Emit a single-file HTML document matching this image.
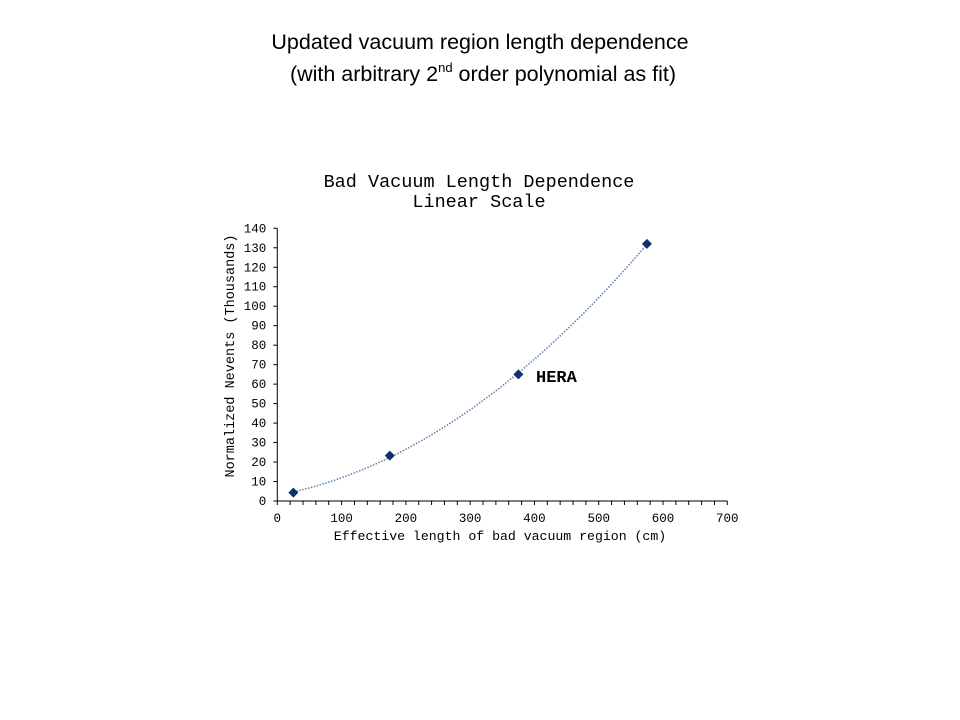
<!DOCTYPE html>
<html><head><meta charset="utf-8"><style>
body{margin:0;background:#fff;width:960px;height:720px;overflow:hidden}
.h{position:absolute;left:0;width:960px;text-align:center;font-family:"Liberation Sans",sans-serif;font-size:21.5px;color:#000}
sup{font-size:13px;line-height:0;vertical-align:9px}
</style></head><body>
<div class="h" style="top:26px;line-height:32px">Updated vacuum region length dependence<br>&nbsp;(with arbitrary 2<sup>nd</sup> order polynomial as fit)</div>
<svg id="c" width="960" height="720" style="position:absolute;left:0;top:0"></svg>
<script>
const xs=[25,175,375,575];
const ys=[4.3,23.3,65,132];
const xTicks=[0,100,200,300,400,500,600,700];
const yTicks=[0,10,20,30,40,50,60,70,80,90,100,110,120,130,140];
const X0=277.3,X1=727.3,Y0=501,Y1=228.3;
const sx=v=>X0+(v/700)*(X1-X0), sy=v=>Y0-(v/140)*(Y0-Y1);
const svg=document.getElementById('c'),NS='http://www.w3.org/2000/svg';
function el(t,a,p){const e=document.createElementNS(NS,t);for(const k in a)e.setAttribute(k,a[k]);(p||svg).appendChild(e);return e;}
const mono='"Liberation Mono",monospace';
let t=el('text',{x:479,y:187,'text-anchor':'middle','font-family':mono,'font-size':18.5});t.textContent='Bad Vacuum Length Dependence';


t=el('text',{x:479,y:207,'text-anchor':'middle','font-family':mono,'font-size':18.5});t.textContent='Linear Scale';


let a=el('line',{x1:X0,y1:Y0,x2:X1,y2:Y0,stroke:'#000'});


a=el('line',{x1:X0,y1:Y0,x2:X0,y2:Y1,stroke:'#000'});


for(let v=0;v<=700;v+=20){el('line',{x1:sx(v),y1:Y0,x2:sx(v),y2:Y0+4,stroke:'#000'});}
xTicks.forEach(v=>{const e=el('text',{x:sx(v),y:Y0+21,'text-anchor':'middle','font-family':mono,'font-size':12.5});e.textContent=v;

});
yTicks.forEach(v=>{el('line',{x1:X0-4,y1:sy(v),x2:X0,y2:sy(v),stroke:'#000'});
const e=el('text',{x:X0-11,y:sy(v)+4,'text-anchor':'end','font-family':mono,'font-size':12.5});e.textContent=v;

});
t=el('text',{x:500,y:540,'text-anchor':'middle','font-family':mono,'font-size':13.2});t.textContent='Effective length of bad vacuum region (cm)';


t=el('text',{x:234,y:356,'text-anchor':'middle','font-family':mono,'font-size':13.5,transform:'rotate(-90 234 356)'});t.textContent='Normalized Nevents (Thousands)';


let S=[0,0,0,0,0],T=[0,0,0];
xs.forEach((x,i)=>{for(let k=0;k<5;k++)S[k]+=Math.pow(x,k);for(let k=0;k<3;k++)T[k]+=ys[i]*Math.pow(x,k);});
const M=[[S[0],S[1],S[2],T[0]],[S[1],S[2],S[3],T[1]],[S[2],S[3],S[4],T[2]]];
for(let i=0;i<3;i++){for(let j=i+1;j<3;j++){const f=M[j][i]/M[i][i];for(let k=i;k<4;k++)M[j][k]-=f*M[i][k];}}
const c=[0,0,0];for(let i=2;i>=0;i--){let s=M[i][3];for(let k=i+1;k<3;k++)s-=M[i][k]*c[k];c[i]=s/M[i][i];}
let d='';for(let x=xs[0];x<=xs[xs.length-1];x+=5){const y=c[0]+c[1]*x+c[2]*x*x;d+=(d?'L':'M')+sx(x).toFixed(1)+' '+sy(y).toFixed(1);}
const fl=el('path',{d:d,fill:'none',stroke:'#5b7fa8','stroke-width':1.5,'stroke-dasharray':'1.5 1.5'});


xs.forEach((x,i)=>{const px=sx(x),py=sy(ys[i]);
const p=el('polygon',{points:`${px},${py-5} ${px+5},${py} ${px},${py+5} ${px-5},${py}`,fill:'#10306a'});

});
t=el('text',{x:536,y:382,'font-family':mono,'font-size':17,'font-weight':'bold'});t.textContent='HERA';


</script>
</body></html>
